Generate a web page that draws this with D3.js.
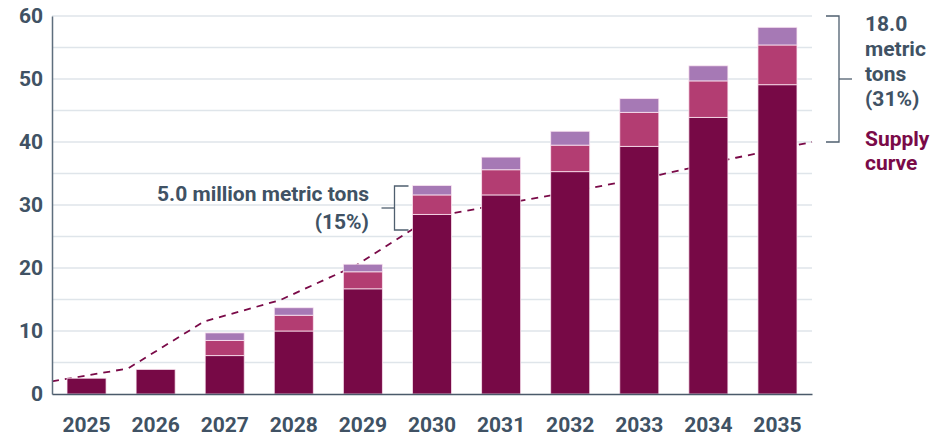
<!DOCTYPE html>
<html>
<head>
<meta charset="utf-8">
<script src="https://cdn.jsdelivr.net/npm/d3@7"></script>
<style>
  html, body { margin: 0; padding: 0; background: #fff; }
  svg { display: block; font-family: Roboto, "Noto Sans", sans-serif; }
</style>
</head>
<body>
<svg id="chart" width="931" height="438"></svg>
<script>
// Yearly demand split into three stacked components (million metric tons)
const years = ["2025","2026","2027","2028","2029","2030","2031","2032","2033","2034","2035"];
const baseDemand = [2.5, 3.9, 6.1, 10.0, 16.7, 28.5, 31.6, 35.3, 39.3, 43.9, 49.1];
const midDemand  = [0, 0, 2.4, 2.5, 2.7, 3.1, 4.0, 4.2, 5.4, 5.8, 6.3];
const topDemand  = [0, 0, 1.2, 1.2, 1.2, 1.5, 2.0, 2.2, 2.2, 2.4, 2.8];
// Supply curve, one point per year spanning the plot width
const supply = [2.0, 4.05, 11.5, 14.9, 20.4, 28.1, 30.3, 32.5, 34.8, 37.5, 40.0];
const yTicks = [0, 10, 20, 30, 40, 50, 60];
const gridValues = [5, 10, 15, 20, 25, 30, 35, 40, 45, 50, 55, 60];

const colors = ["#770946", "#b33d72", "#a679b5"];
const textColor = "#405264";
const supplyColor = "#7a0a48";

const svg = d3.select("#chart");
const plotLeft = 52, plotRight = 812, plotTop = 16, plotBottom = 394;

const x = d3.scaleBand().domain(years).range([plotLeft, plotRight])
  .paddingInner(0.435).paddingOuter(0.2175);
const y = d3.scaleLinear().domain([0, 60]).range([plotBottom, plotTop]);
const xLine = d3.scaleLinear().domain([0, years.length - 1]).range([plotLeft, plotRight]);

// Horizontal gridlines
svg.append("g").selectAll("line").data(gridValues).join("line")
  .attr("x1", plotLeft).attr("x2", plotRight)
  .attr("y1", d => y(d)).attr("y2", d => y(d))
  .attr("stroke", "#dfe5ea").attr("stroke-width", 1.5);

// Supply curve (sits behind the bars)
svg.append("path")
  .datum(supply)
  .attr("fill", "none")
  .attr("stroke", supplyColor)
  .attr("stroke-width", 1.8)
  .attr("stroke-dasharray", "7,6")
  .attr("d", d3.line().x((d, i) => xLine(i)).y(d => y(d)));

// Stacked bars
const rows = years.map((yr, i) => ({ year: yr, base: baseDemand[i], mid: midDemand[i], top: topDemand[i] }));
const stack = d3.stack().keys(["base", "mid", "top"])(rows);
svg.append("g").selectAll("g").data(stack).join("g")
  .attr("fill", (d, i) => colors[i])
  .selectAll("rect").data(d => d.filter(s => s[1] - s[0] > 0)).join("rect")
  .attr("x", d => x(d.data.year))
  .attr("width", x.bandwidth())
  .attr("y", d => y(d[1]))
  .attr("height", d => y(d[0]) - y(d[1]))
  .attr("stroke", "rgba(255,235,245,0.75)")
  .attr("stroke-width", 1);

// Axes
const yAxis = d3.axisLeft(y).tickValues(yTicks).tickSize(0).tickPadding(9);
const gy = svg.append("g").attr("transform", `translate(${plotLeft},0)`).call(yAxis);
gy.select(".domain").attr("stroke", "#5e6e7d").attr("stroke-width", 1.5);
gy.selectAll("text").attr("fill", textColor).attr("font-size", 21).attr("font-weight", 700)
  .attr("font-family", "Roboto, sans-serif");

const xAxis = d3.axisBottom(x).tickSize(0).tickPadding(23);
const gx = svg.append("g").attr("transform", `translate(0,${plotBottom})`).call(xAxis);
gx.select(".domain").attr("stroke", "#4a5a6a").attr("stroke-width", 1.5);
gx.selectAll("text").attr("fill", textColor).attr("font-size", 21).attr("font-weight", 700)
  .attr("font-family", "Roboto, sans-serif");

// Bracket helper
function bracket(xv, y1, y2, tickDir, midDir, tickLen, midLen) {
  const g = svg.append("g").attr("stroke", "#4f5f6f").attr("stroke-width", 1.3).attr("fill", "none");
  g.append("path").attr("d",
    `M${xv + tickDir * tickLen},${y1}H${xv}V${y2}H${xv + tickDir * tickLen}`);
  g.append("path").attr("d", `M${xv},${(y1 + y2) / 2}H${xv + midDir * midLen}`);
}

// 2030 gap annotation
bracket(394.5, 186, 230, 1, -1, 14, 13);
const a1 = svg.append("text").attr("fill", textColor).attr("font-size", 21)
  .attr("font-weight", 700).attr("text-anchor", "end");
a1.append("tspan").attr("x", 369).attr("y", 200.5).text("5.0 million metric tons");
a1.append("tspan").attr("x", 369).attr("y", 228.5).text("(15%)");

// 2035 gap annotation
bracket(839, y(60), y(supply[supply.length - 1]), -1, 1, 13, 13);
const a2 = svg.append("text").attr("fill", textColor).attr("font-size", 21)
  .attr("font-weight", 700);
["18.0", "metric", "tons", "(31%)"].forEach((t, i) =>
  a2.append("tspan").attr("x", 865).attr("y", 31 + i * 25).text(t));

const a3 = svg.append("text").attr("fill", supplyColor).attr("font-size", 21)
  .attr("font-weight", 700);
["Supply", "curve"].forEach((t, i) =>
  a3.append("tspan").attr("x", 865).attr("y", 146 + i * 24).text(t));
</script>
</body>
</html>
